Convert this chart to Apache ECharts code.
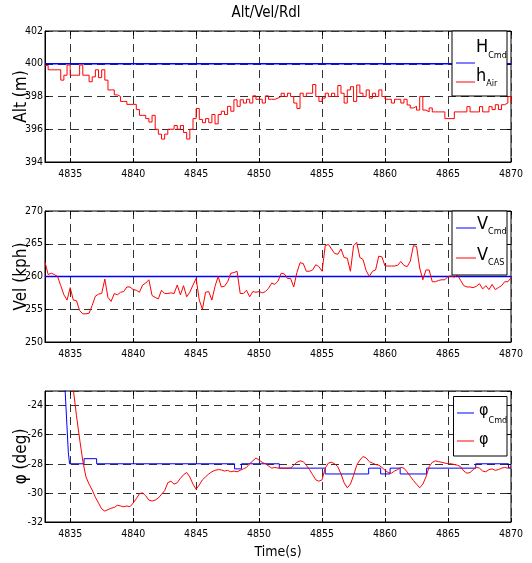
<!DOCTYPE html>
<html>
<head>
<meta charset="utf-8">
<script src="https://cdn.jsdelivr.net/npm/echarts/dist/echarts.min.js"></script>
<style>
html,body{margin:0;padding:0;background:#fff;}
#chart{width:532px;height:563px;}
</style>
</head>
<body>
<div id="chart"></div>
<script>
// ---------------- data ----------------
const titleText = 'Alt/Vel/Rdl';
const timeMin = 4833;
const timeMax = 4870;
const sampleStep = 0.25;

// Altitude command (m)
const hCmdTime = [4833, 4870];
const hCmdVal = [400, 400];
// Altitude measured (m), sampled every 0.25 s from 4833
const hAirStart = 4833;
const hAir = [
 399.9,399.63,399.63,399.63,399.63,399.0,399.3,399.92,399.3,399.3,
 399.3,399.92,399.3,399.3,398.9,399.2,399.63,399.15,399.63,399.0,
 398.4,398.4,398.1,398.0,397.7,397.7,397.52,397.52,397.52,397.2,
 396.85,396.85,396.65,396.44,396.85,396.0,395.7,395.4,395.7,396.0,
 396.0,396.23,396.0,396.23,395.8,395.4,396.0,396.65,397.27,396.6,
 396.4,396.65,396.4,396.9,396.33,396.9,397.1,396.9,397.4,397.1,
 397.8,397.4,397.8,397.6,397.83,397.6,398.04,397.83,397.83,397.6,
 398.04,397.83,397.83,397.9,398.0,398.2,398.0,398.2,398.0,397.6,
 397.27,398.2,398.0,398.2,398.2,398.73,398.0,397.7,397.9,398.2,
 398.0,398.2,398.0,398.67,398.2,397.6,398.4,398.6,397.7,398.7,
 398.2,398.0,398.4,397.9,398.2,398.0,398.4,398.0,397.83,397.83,
 397.6,397.83,397.83,397.6,397.83,397.48,397.3,397.4,397.17,398.0,
 397.17,397.06,397.3,397.06,397.06,397.06,397.06,396.65,396.65,396.65,
 397.06,397.06,397.06,397.06,397.38,397.06,397.06,397.06,397.38,397.06,
 397.06,397.38,397.2,397.5,397.2,397.5,397.6,398.0,397.6
];

// Velocity command (kph)
const vCmdTime = [4833, 4870];
const vCmdVal = [260, 260];
// Calibrated airspeed (kph), every 0.25 s from 4833
const vCasStart = 4833;
const vCas = [
 262.2,260.3,260.5,260.3,260.0,258.6,257.2,256.4,258.3,256.4,
 256.3,254.8,254.3,254.3,254.4,255.6,257.0,257.3,257.4,259.6,
 256.8,256.2,257.4,257.2,257.6,257.7,258.4,258.4,258.0,257.9,
 257.6,258.7,259.0,259.5,257.1,256.8,256.6,257.9,257.4,257.4,
 257.5,257.4,258.7,257.2,258.6,256.9,257.6,258.7,259.7,256.4,
 255.0,257.6,257.7,256.4,258.5,260.0,258.4,258.5,259.2,260.5,
 260.6,260.8,257.4,257.4,257.9,256.9,257.7,257.6,257.7,257.5,
 257.7,258.2,259.0,258.8,259.3,260.5,260.4,259.7,259.7,258.4,
 260.6,262.1,262.0,260.8,260.8,261.0,261.8,261.5,260.8,264.7,
 264.9,264.2,263.5,263.4,264.2,262.9,262.8,260.8,264.7,265.2,
 262.9,262.6,260.9,260.0,260.8,261.0,263.1,263.0,261.6,261.6,
 261.6,261.6,261.7,262.3,261.7,261.5,262.3,264.7,264.6,261.3,
 259.5,261.0,261.0,259.2,259.2,259.4,259.5,259.5,260.0,260.1,
 259.9,260.2,259.4,258.6,258.4,258.4,258.3,258.5,258.9,258.1,
 258.6,258.0,258.8,258.0,258.3,258.6,259.2,259.2,259.8
];

// Roll command (deg): breakpoints of the held command signal
const phiCmdTime = [4834.4,4834.6,4834.85,4834.95,4836.1,4836.1,4837.1,4837.1,4848.05,4848.05,
 4848.6,4848.6,4851.6,4851.6,4855.25,4855.25,4858.7,4858.7,4859.65,4859.65,
 4860.4,4860.4,4861.2,4861.2,4863.3,4863.3,4867.2,4867.2,4869.8,4869.8,4870];
const phiCmdVal = [-21,-23,-27.2,-28,-28,-27.65,-27.65,-28,-28,-28.35,
 -28.35,-28,-28,-28.3,-28.3,-28.7,-28.7,-28.3,-28.3,-28.7,
 -28.7,-28.3,-28.3,-28.7,-28.7,-28.3,-28.3,-28,-28,-28.3,-28.3];
// Roll angle (deg), every 0.25 s from 4834.75
const phiStart = 4834.75;
const phi = [
 -19.3,-21.2,-22.9,-24.7,-26.3,-27.8,-28.9,-29.4,-29.8,-30.3,
 -30.7,-31.1,-31.25,-31.15,-31.05,-31.0,-30.85,-30.9,-30.95,-30.9,
 -30.95,-30.7,-30.4,-30.05,-30.0,-30.2,-30.5,-30.56,-30.5,-30.35,
 -30.1,-29.85,-29.3,-29.2,-29.4,-29.3,-29.0,-28.75,-28.6,-28.9,
 -29.4,-29.75,-29.45,-29.1,-28.9,-28.7,-28.55,-28.45,-28.4,-28.42,
 -28.5,-28.45,-28.55,-28.5,-28.55,-28.45,-28.35,-28.25,-28.0,-27.8,
 -27.6,-27.75,-27.9,-28.0,-28.15,-28.3,-28.25,-28.3,-28.3,-28.3,
 -28.3,-28.3,-28.1,-27.9,-27.8,-27.85,-28.1,-28.4,-28.75,-29.1,
 -29.2,-29.1,-28.3,-27.95,-27.9,-28.0,-28.2,-28.7,-29.3,-29.65,
 -29.4,-28.8,-28.1,-27.75,-27.5,-27.6,-27.85,-27.95,-28.05,-28.1,
 -28.25,-28.45,-28.6,-28.65,-28.5,-28.4,-28.25,-28.3,-28.55,-28.85,
 -29.15,-29.4,-29.65,-29.4,-28.9,-28.2,-27.9,-27.8,-27.85,-27.9,
 -27.95,-28.0,-28.0,-28.05,-28.1,-28.2,-28.5,-28.65,-28.6,-28.4,
 -28.25,-28.3,-28.5,-28.55,-28.4,-28.35,-28.45,-28.4,-28.3,-28.25,
 -28.3,-28.2
];

const yNames = ['Alt (m)', 'Vel (kph)', 'φ (deg)'];
const yRanges = [[394, 402, 2], [250, 270, 5], [-32, -23, 2]];
const xName = 'Time(s)';

// ---------------- helpers ----------------
const FONT = "'DejaVu Sans Condensed', 'Liberation Sans', sans-serif";
const BLUE = '#0000ff', RED = '#ff0000';

function pairs(times, vals) { return vals.map((v, i) => [times[i], v]); }
function sampled(start, vals) { return vals.map((v, i) => [start + i * sampleStep, v]); }

const gridTops = [31, 211, 391];
const grids = gridTops.map(t => ({
  left: 45, right: 21, top: t, height: 131,
  show: true, borderColor: '#000', borderWidth: 1, backgroundColor: '#fff',
  containLabel: false, outerBoundsMode: 'none'
}));

const dash = {color: '#333', type: [8, 5], width: 1};
const labelStyle = {color: '#000', fontFamily: FONT, fontSize: 10.5};

const xAxes = [];
const yAxes = [];
for (let g = 0; g < 3; g++) {
  xAxes.push({
    type: 'value', gridIndex: g, min: timeMin, max: timeMax, splitNumber: 7,
    axisLine: {show: true, onZero: false, lineStyle: {color: '#000', width: 1}},
    axisTick: {show: true, inside: true, length: 4, lineStyle: {color: '#000'}},
    axisLabel: Object.assign({show: true, margin: 7, showMinLabel: false, hideOverlap: false, formatter: v => String(v)}, labelStyle),
    splitLine: {show: true, lineStyle: dash},
    name: g === 2 ? xName : '', nameLocation: 'middle', nameGap: 23, nameMoveOverlap: false,
    nameTextStyle: {color: '#000', fontFamily: FONT, fontSize: 14}
  });
  const r = yRanges[g];
  yAxes.push({
    type: 'value', gridIndex: g, min: r[0], max: r[1], interval: r[2],
    axisLine: {show: true, onZero: false, lineStyle: {color: '#000', width: 1}},
    axisTick: {show: true, inside: true, length: 4, lineStyle: {color: '#000'}},
    axisLabel: Object.assign({show: true, margin: 2, showMaxLabel: g !== 2, hideOverlap: false}, labelStyle),
    splitLine: {show: true, lineStyle: dash},
    name: yNames[g], nameLocation: 'middle', nameGap: 15, nameMoveOverlap: false,
    nameTextStyle: {color: '#000', fontFamily: FONT, fontSize: 17}
  });
}
// mirrored tick marks on top and right edges
for (let g = 0; g < 3; g++) {
  xAxes.push({
    type: 'value', gridIndex: g, position: 'top', min: timeMin, max: timeMax, splitNumber: 7,
    axisLine: {show: false}, axisTick: {show: true, inside: true, length: 4, lineStyle: {color: '#000'}},
    axisLabel: {show: false}, splitLine: {show: false}
  });
  const r = yRanges[g];
  yAxes.push({
    type: 'value', gridIndex: g, position: 'right', min: r[0], max: r[1], interval: r[2],
    axisLine: {show: false}, axisTick: {show: true, inside: true, length: 4, lineStyle: {color: '#000'}},
    axisLabel: {show: false}, splitLine: {show: false}
  });
}

function line(name, gi, data, color, width, step) {
  return {
    name, type: 'line', xAxisIndex: gi, yAxisIndex: gi, data,
    showSymbol: false, symbol: 'none', step: step || false, clip: true,
    lineStyle: {color, width}, itemStyle: {color}, animation: false, silent: true
  };
}

const series = [
  line('HCmd', 0, pairs(hCmdTime, hCmdVal), BLUE, 1.5),
  line('hAir', 0, sampled(hAirStart, hAir), RED, 1, 'end'),
  line('VCmd', 1, pairs(vCmdTime, vCmdVal), BLUE, 1.3),
  line('VCAS', 1, sampled(vCasStart, vCas), RED, 1),
  line('phiCmd', 2, pairs(phiCmdTime, phiCmdVal), BLUE, 1),
  line('phi', 2, sampled(phiStart, phi), RED, 1)
];

// ---------------- legends (boxes with sub-scripted labels) ----------------
function legendBox(box, items) {
  const children = [{
    type: 'rect', shape: {x: box[0], y: box[1], width: box[2], height: box[3]},
    style: {fill: '#fff', stroke: '#000', lineWidth: 1}, z: 100
  }];
  items.forEach(it => {
    children.push({
      type: 'line', shape: {x1: it.x1, y1: it.ly, x2: it.x2, y2: it.ly},
      style: {stroke: it.color, lineWidth: 1}, z: 101
    });
    children.push({
      type: 'text', x: it.tx, y: it.ty, z: 101,
      style: {
        text: it.sub ? '{m|' + it.main + '}{s|' + it.sub + '}' : '{m|' + it.main + '}',
        fill: '#000', align: 'left', verticalAlign: 'top',
        rich: {
          m: {fontFamily: FONT, fontSize: it.fm, lineHeight: it.lm, verticalAlign: 'top', fill: '#000'},
          s: {fontFamily: FONT, fontSize: 9, lineHeight: 10, verticalAlign: 'top', padding: [it.sp, 0, 0, 0], fill: '#000'}
        }
      }
    });
  });
  return children;
}

const graphic = [].concat(
  legendBox([452, 31, 55, 65], [
    {color: BLUE, x1: 456, x2: 475, ly: 63, tx: 476, ty: 38.7, main: 'H', sub: 'Cmd', fm: 18, lm: 22, sp: 12.5},
    {color: RED, x1: 456, x2: 475, ly: 82, tx: 476, ty: 67.1, main: 'h', sub: 'Air', fm: 18, lm: 22, sp: 12.5}
  ]),
  legendBox([452, 211, 55, 64], [
    {color: BLUE, x1: 456, x2: 476, ly: 228, tx: 477, ty: 214.9, main: 'V', sub: 'Cmd', fm: 18, lm: 22, sp: 12.5},
    {color: RED, x1: 456, x2: 476, ly: 258, tx: 477, ty: 245.9, main: 'V', sub: 'CAS', fm: 18, lm: 22, sp: 12.5}
  ]),
  legendBox([453.5, 396.5, 53.5, 59.5], [
    {color: BLUE, x1: 457, x2: 474, ly: 413, tx: 479, ty: 403, main: 'φ', sub: 'Cmd', fm: 16, lm: 20, sp: 13.5},
    {color: RED, x1: 457, x2: 474, ly: 441, tx: 479, ty: 431.4, main: 'φ', sub: '', fm: 16, lm: 20, sp: 12}
  ])
);

const chart = echarts.init(document.getElementById('chart'), null, {renderer: 'canvas'});
chart.setOption({
  animation: false,
  backgroundColor: '#fff',
  title: {
    text: titleText, left: 'center', top: 6, padding: 0,
    textStyle: {color: '#000', fontFamily: FONT, fontSize: 15, fontWeight: 'normal'}
  },
  grid: grids,
  xAxis: xAxes,
  yAxis: yAxes,
  series: series,
  graphic: graphic
});
</script>
</body>
</html>
